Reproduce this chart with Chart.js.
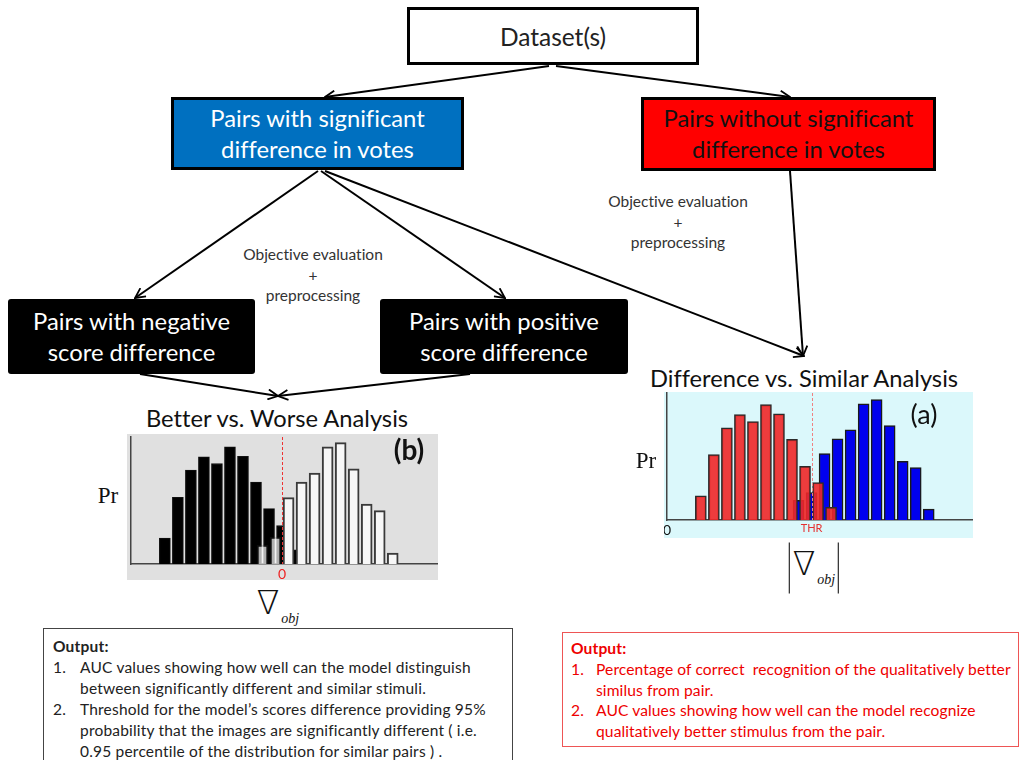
<!DOCTYPE html>
<html>
<head>
<meta charset="utf-8">
<script src="https://cdn.jsdelivr.net/npm/chart.js@4.4.1/dist/chart.umd.min.js"></script>
<style>
  body { margin: 0; background: #fff; font-family: Lato, "Open Sans", sans-serif; color: #111;
         font-variant-ligatures: none; }
  #page { position: relative; width: 1019px; height: 760px; overflow: hidden; }
  .box { position: absolute; box-sizing: border-box; display: flex; flex-direction: column;
         justify-content: center; align-items: center; font-size: 23.8px; line-height: 31px; }
  .t { position: absolute; white-space: nowrap; transform: translate(-50%, -50%); text-align: center; }
  .serif { font-family: "Liberation Serif", "DejaVu Serif", serif; }
  .nabla { font-family: "DejaVu Sans", sans-serif; font-weight: 200; font-size: 33px; }
  canvas { position: absolute; }
  .out { position: absolute; box-sizing: border-box; font-size: 15.5px; line-height: 21px; }
  .out .row { position: relative; padding-left: 27px; white-space: nowrap; }
  .out .row span { position: absolute; left: 0; }
  svg { position: absolute; left: 0; top: 0; }
</style>
</head>
<body>
<div id="page">
  <svg width="1019" height="760">
    <defs>
      <marker id="ah" viewBox="0 0 12 12" refX="11" refY="6" markerWidth="12" markerHeight="12"
              markerUnits="userSpaceOnUse" orient="auto">
        <path d="M1,1 L11,6 L1,11" fill="none" stroke="#000" stroke-width="1.8"/>
      </marker>
    </defs>
    <g stroke="#000" stroke-width="2" fill="none" marker-end="url(#ah)">
      <line x1="549" y1="66" x2="325" y2="97"/>
      <line x1="556" y1="66" x2="790" y2="97"/>
      <line x1="318" y1="171" x2="135" y2="298"/>
      <line x1="321" y1="171" x2="505" y2="298"/>
      <line x1="325" y1="171" x2="804" y2="356"/>
      <line x1="790" y1="171" x2="803" y2="356"/>
      <line x1="140" y1="374" x2="278" y2="396"/>
      <line x1="470" y1="374" x2="278" y2="396"/>
    </g>
  </svg>

  <div class="box" style="left:407px;top:7px;width:292px;height:58px;border:3px solid #000;background:#fff;color:#222;font-size:24.5px;">Dataset(s)</div>
  <div class="box" style="left:171px;top:97px;width:293px;height:73px;border:3px solid #000;background:#0070c0;color:#fff;">
    <div>Pairs with significant</div><div>difference in votes</div></div>
  <div class="box" style="left:641px;top:97px;width:295px;height:74px;border:3px solid #000;background:#ff0000;color:#111;">
    <div>Pairs without significant</div><div>difference in votes</div></div>
  <div class="box" style="left:8px;top:299px;width:247px;height:75px;background:#000;color:#fff;border-radius:3px;">
    <div>Pairs with negative</div><div>score difference</div></div>
  <div class="box" style="left:380px;top:299px;width:248px;height:75px;background:#000;color:#fff;border-radius:3px;">
    <div>Pairs with positive</div><div>score difference</div></div>

  <div class="t" style="left:313px;top:275px;font-size:15.5px;line-height:20.5px;color:#333;">Objective evaluation<br>+<br>preprocessing</div>
  <div class="t" style="left:678px;top:222px;font-size:15.5px;line-height:20.5px;color:#333;">Objective evaluation<br>+<br>preprocessing</div>

  <div class="t" style="left:277px;top:418px;font-size:23.7px;">Better vs. Worse Analysis</div>
  <div class="t" style="left:804px;top:378px;font-size:23.7px;">Difference vs. Similar Analysis</div>

  <canvas id="bw" width="311" height="146" style="left:127px;top:434px;background:#e0e0e0;"></canvas>
  <canvas id="ds" width="309" height="146" style="left:664px;top:392px;background:#dbf8fb;"></canvas>

  <div class="t" style="left:409px;top:449px;font-size:28px;font-weight:bold;">(b)</div>
  <div class="t" style="left:924px;top:413px;font-size:27px;">(a)</div>
  <div class="t serif" style="left:108px;top:496px;font-size:23px;">Pr</div>
  <div class="t serif" style="left:646px;top:461px;font-size:23px;">Pr</div>
  <div class="t" style="left:278px;top:606px;font-size:28px;line-height:34px;"><span class="nabla">&#8711;</span><i class="serif" style="font-size:14px;position:relative;top:9px;margin-left:2px;">obj</i></div>
  <div class="t" style="left:814px;top:568px;font-size:28px;">
    <span style="display:inline-block;border-left:1px solid #000;border-right:1px solid #000;padding:4px 3px 6px 3px;line-height:34px;"><span class="nabla">&#8711;</span><i class="serif" style="font-size:14px;position:relative;top:9px;margin-left:2px;">obj</i></span></div>

  <div class="out" style="left:43px;top:628px;width:470px;height:150px;border:1px solid #444;padding:7px 0 0 9px;color:#222;letter-spacing:0.2px;">
    <div style="font-weight:bold;">Output:</div>
    <div class="row"><span>1.</span>AUC values showing how well can the model distinguish</div>
    <div class="row">between significantly different and similar stimuli.</div>
    <div class="row"><span>2.</span>Threshold for the model’s scores difference providing 95%</div>
    <div class="row">probability that the images are significantly different ( i.e.</div>
    <div class="row">0.95 percentile of the distribution for similar pairs ) .</div>
  </div>
  <div class="out" style="left:562px;top:632px;width:457px;height:115px;border:1px solid #e55;padding:5px 0 0 8px;color:#e00;font-size:15.6px;line-height:20.8px;letter-spacing:0.1px;">
    <div style="font-weight:bold;">Output:</div>
    <div class="row" style="padding-left:25px;"><span>1.</span>Percentage of correct&nbsp; recognition of the qualitatively better</div>
    <div class="row" style="padding-left:25px;">similus from pair.</div>
    <div class="row" style="padding-left:25px;"><span>2.</span>AUC values showing how well can the model recognize</div>
    <div class="row" style="padding-left:25px;">qualitatively better stimulus from the pair.</div>
  </div>
</div>

<script>
// Better vs. Worse: score difference bins (bin width 1) and Pr heights
const worseX = [-9, -8, -7, -6, -5, -4, -3, -2, -1, 0, 1];
const worsePr = [7.8, 20.1, 28.3, 32.3, 30.3, 35.3, 32.5, 24.7, 16.7, 11.6, 4.3];
const betterX = [-1.5, -0.5, 0.5, 1.5, 2.5, 3.5, 4.5, 5.5, 6.5, 7.5, 8.5];
const betterPr = [5.7, 8.1, 20.0, 24.7, 27.4, 35.3, 36.6, 28.7, 18.1, 16.1, 3.3];

// Difference vs. Similar: |score difference| bins
const similarX = [2.6, 3.6, 4.6, 5.6, 6.6, 7.6, 8.6, 9.6, 10.6, 11.6, 12.6];
const similarPr = [7.3, 19.7, 27.8, 31.8, 29.7, 34.8, 32.0, 24.3, 16.2, 11.3, 3.8];
const differentX = [10.1, 11.1, 12.1, 13.1, 14.1, 15.1, 16.1, 17.1, 18.1, 19.1, 20.1];
const differentPr = [5.9, 8.3, 20.0, 24.5, 27.2, 35.0, 36.3, 28.5, 17.7, 15.8, 3.3];

const thr = 11.1;
const bwTicks = [0];
const bwLabels = ["0"];
const dsTicks = [0, thr];
const dsLabels = ["0", "THR"];
const prMax = 38.3;

const pts = (xs, ys) => xs.map((x, i) => ({ x: x, y: ys[i] }));

// dashed vertical marker (zero / threshold)
const cutLine = {
  id: "cutLine",
  afterDatasetsDraw(chart, args, opts) {
    const { ctx, chartArea, scales } = chart;
    const x = Math.round(scales.x.getPixelForValue(opts.value)) + 0.5;
    ctx.save();
    ctx.strokeStyle = opts.color;
    ctx.lineWidth = 1;
    ctx.setLineDash([3, 2]);
    ctx.beginPath();
    ctx.moveTo(x, chartArea.top);
    ctx.lineTo(x, chartArea.bottom);
    ctx.stroke();
    ctx.restore();
  }
};

function histogram(id, datasets, range, ticks, labels, cfg) {
  return new Chart(document.getElementById(id), {
    type: "bar",
    data: { datasets: datasets },
    plugins: [cutLine],
    options: {
      responsive: false,
      animation: false,
      devicePixelRatio: 1,
      layout: { padding: { top: cfg.top, right: cfg.right, left: 0, bottom: 0 } },
      plugins: {
        legend: { display: false },
        tooltip: { enabled: false },
        cutLine: { value: cfg.cut, color: cfg.cutColor }
      },
      scales: {
        x: {
          type: "linear", min: range[0], max: range[1], offset: false,
          grid: { display: false, drawTicks: false },
          border: { display: true, color: "#444", width: 1.5 },
          afterBuildTicks: s => { s.ticks = ticks.map(v => ({ value: v })); },
          afterFit: s => { s.height = cfg.xh; s.paddingLeft = 0; s.paddingRight = 0; },
          ticks: {
            autoSkip: false, maxRotation: 0, padding: 2,
            callback: (v, i) => labels[i],
            color: c => c.tick && c.tick.value === 0 ? cfg.zeroColor : "#e53030",
            font: c => ({ family: "Lato", size: c.tick && c.tick.value === 0 ? 14 : 11 })
          }
        },
        y: {
          min: 0, max: prMax,
          grid: { display: false, drawTicks: false },
          ticks: { display: false },
          border: { display: true, color: "#444", width: 1.5 },
          afterFit: s => { s.width = cfg.yw; }
        }
      }
    }
  });
}

histogram("bw", [
  { data: pts(betterX, betterPr), grouped: false, order: 1, barThickness: 11,
    backgroundColor: c => c.raw && c.raw.x < 0 ? "rgba(250,250,250,0.7)" : "#f7f7f7",
    borderColor: c => c.raw && c.raw.x < 0 ? "rgba(60,60,60,0.2)" : "#3a3a3a",
    borderWidth: 2, borderSkipped: "bottom" },
  { data: pts(worseX, worsePr), grouped: false, order: 2, barThickness: 11,
    backgroundColor: "#000", borderColor: "#111", borderWidth: 1 }
], [-11.6, 11.9], bwTicks, bwLabels,
  { top: 3, right: 1, xh: 16, yw: 4, cut: 0, cutColor: "#e33", zeroColor: "#e22" });

histogram("ds", [
  { data: pts(similarX, similarPr), grouped: false, order: 1, barThickness: 11,
    backgroundColor: "rgba(240,40,40,0.9)", borderColor: "#2a2a2a", borderWidth: 1.5 },
  { data: pts(differentX, differentPr), grouped: false, order: 2, barThickness: 11,
    backgroundColor: "#0000ee", borderColor: "#1a1a1a", borderWidth: 1.5 }
], [0, 23.5], dsTicks, dsLabels,
  { top: 1, right: 0, xh: 18, yw: 3, cut: thr, cutColor: "#f08080", zeroColor: "#111" });
</script>
</body>
</html>
